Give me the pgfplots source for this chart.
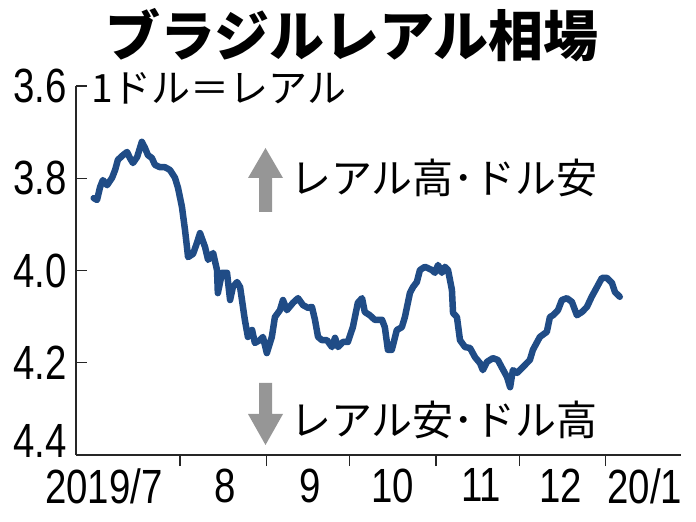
\documentclass[border=0pt]{standalone}
\usepackage{fontspec}
\setmainfont[FakeStretch=0.8]{Liberation Sans}
\newfontfamily\cjk{Noto Sans CJK JP}
\usepackage{pgfplots}
\pgfplotsset{compat=1.18}
\definecolor{realblue}{RGB}{32,76,134}
\definecolor{arrowgray}{RGB}{150,150,150}

% BRL per USD, x = days since 2019-07-01
\pgfplotstableread{
day val
0.0 3.843
1.2 3.847
2.3 3.819
3.3 3.804
4.8 3.815
6.6 3.799
7.7 3.782
8.7 3.760
10.5 3.750
12.0 3.743
13.0 3.756
14.1 3.767
15.6 3.754
17.3 3.721
18.4 3.734
19.5 3.750
20.9 3.756
22.0 3.771
23.8 3.776
25.6 3.776
27.4 3.782
29.2 3.799
30.3 3.821
31.7 3.862
32.8 3.912
33.5 3.949
33.9 3.971
35.7 3.964
37.1 3.940
38.2 3.919
40.0 3.949
41.1 3.977
42.9 3.962
44.3 3.999
44.6 4.049
46.1 4.005
47.9 4.005
49.0 4.064
50.0 4.036
51.5 4.025
52.6 4.036
54.3 4.107
55.4 4.144
56.9 4.129
57.9 4.157
59.7 4.151
60.8 4.144
62.2 4.179
64.0 4.144
65.1 4.101
66.9 4.086
68.0 4.064
69.4 4.086
71.6 4.070
73.4 4.060
75.2 4.075
77.0 4.081
78.4 4.079
79.5 4.107
80.6 4.144
82.0 4.151
83.8 4.151
85.6 4.166
86.7 4.146
87.8 4.166
89.5 4.155
91.3 4.155
93.1 4.123
94.9 4.070
96.4 4.060
97.4 4.090
99.2 4.097
101.0 4.107
103.6 4.107
104.6 4.123
105.7 4.172
107.1 4.172
108.9 4.129
110.7 4.123
111.8 4.101
113.6 4.049
114.7 4.036
116.1 4.025
117.2 3.999
119.0 3.992
120.1 3.995
121.5 3.999
122.6 4.005
123.7 3.988
125.1 4.005
126.2 3.992
127.3 3.999
128.7 4.042
129.1 4.092
130.5 4.101
131.6 4.151
133.4 4.166
135.2 4.168
137.0 4.188
138.8 4.201
139.8 4.216
141.3 4.198
143.4 4.190
145.2 4.194
146.7 4.211
148.5 4.231
149.6 4.253
150.6 4.216
152.1 4.222
153.1 4.216
154.9 4.205
156.7 4.194
157.8 4.172
160.3 4.144
162.8 4.133
163.9 4.101
165.0 4.097
166.8 4.086
168.2 4.064
170.0 4.060
171.8 4.068
173.6 4.097
175.4 4.090
177.2 4.079
178.9 4.057
180.8 4.036
182.6 4.016
184.4 4.016
186.2 4.027
187.3 4.047
189.0 4.057
}\brl

\begin{document}
\begin{tikzpicture}
\useasboundingbox (0,0) rectangle (696pt,522pt);

\begin{axis}[
    at={(76pt,67pt)}, anchor=south west,
    width=605pt, height=369pt, scale only axis,
    xmin=-6.36, xmax=211, ymin=3.6, ymax=4.4,
    y dir=reverse,
    axis x line*=bottom, axis y line*=left,
    axis line style={line width=1.2pt, black!85},
    tick align=inside,
    major tick length=11pt,
    tick style={line width=1.2pt, black!85},
    xtick={31,62,92,123,153,184},
    xticklabels={},
    xtick style={yshift=-11pt},
    extra x ticks={3.7,47.2,77.7,107.5,139.2,167.8,198},
    extra x tick labels={2019/7,8,9,10,11,12,20/1},
    extra x tick style={major tick length=0pt},
    x tick label style={yshift=-10pt},
    ytick={3.6,3.8,4.0,4.2},
    yticklabels={3.6,3.8,4.0,4.2},
    y tick label style={xshift=-6pt},
    extra y ticks={4.4},
    extra y tick labels={4.4},
    extra y tick style={major tick length=0pt, yticklabel style={yshift=14pt}},
    /pgf/number format/assume math mode=true,
    tick label style={font=\fontsize{48}{48}\selectfont, black},
    clip=false,
]
\addplot[realblue, line width=6.5pt, line join=round, line cap=round] table[x=day, y=val] {\brl};
\end{axis}

% title and notes
\node[font=\cjk\bfseries\fontsize{55}{55}\selectfont] at (352pt,487pt) {ブラジルレアル相場};
\node[anchor=west, inner sep=0pt, font=\cjk\fontsize{39}{39}\selectfont] at (91pt,434pt) {1ドル＝レアル};
\node[anchor=west, inner sep=0pt, font=\cjk\fontsize{41}{41}\selectfont] at (290pt,344pt) {レアル高･ドル安};
\node[anchor=west, inner sep=0pt, font=\cjk\fontsize{41}{41}\selectfont] at (290pt,102pt) {レアル安･ドル高};

% direction arrows
\fill[arrowgray] (265.5pt,374pt) -- (283pt,344pt) -- (272pt,344pt) -- (272pt,310pt)
  -- (259pt,310pt) -- (259pt,344pt) -- (248pt,344pt) -- cycle;
\fill[arrowgray] (265.5pt,77pt) -- (283pt,108pt) -- (272pt,108pt) -- (272pt,139pt)
  -- (259pt,139pt) -- (259pt,108pt) -- (248pt,108pt) -- cycle;
\end{tikzpicture}
\end{document}
